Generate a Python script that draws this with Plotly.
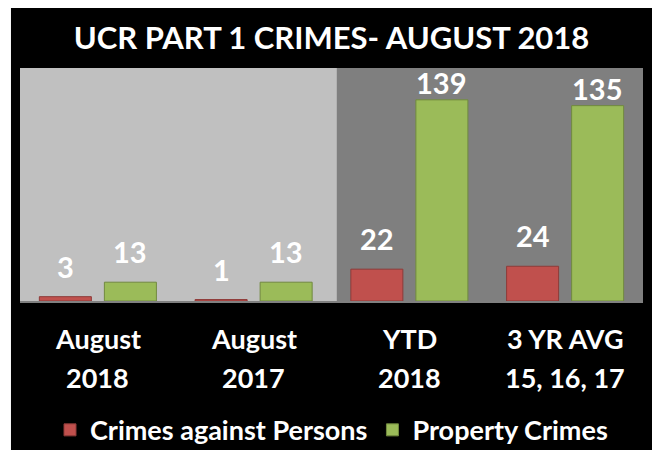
import plotly.graph_objects as go

# chart data
line1 = ["August", "August", "YTD", "3 YR AVG"]
line2 = ["2018", "2017", "2018", "15, 16, 17"]
persons = [3, 1, 22, 24]
property_crimes = [13, 13, 139, 135]

RED = "#C0504D"
GREEN = "#9BBB59"
FONT = "Lato"

cats = list(range(len(line1)))

fig = go.Figure()
fig.add_trace(go.Bar(x=cats, y=persons, name="Crimes against Persons",
    marker=dict(color=RED, line=dict(color="#8E3B39", width=1))))
fig.add_trace(go.Bar(x=cats, y=property_crimes, name="Property Crimes",
    marker=dict(color=GREEN, line=dict(color="#718A3F", width=1))))

# black card with white edges, and the two grey bands behind the bars
shapes = [
    dict(type="rect", xref="paper", yref="paper", x0=-0.0145, x1=1.0193,
         y0=-0.7, y1=1.3, fillcolor="black", line_width=0, layer="below"),
    dict(type="rect", xref="x", yref="paper", x0=-0.5, x1=1.535, y0=0, y1=1,
         fillcolor="#C0C0C0", line_width=0, layer="below"),
    dict(type="rect", xref="x", yref="paper", x0=1.535, x1=3.5, y0=0, y1=1,
         fillcolor="#7F7F7F", line_width=0, layer="below"),
]

annotations = []
# value labels over each bar
for vals, dx in ((persons, -32), (property_crimes, 32)):
    for i, v in enumerate(vals):
        annotations.append(dict(x=i, y=v, text=str(v), showarrow=False,
            xshift=dx, yshift=-2 if v > 100 else 11, yanchor="bottom",
            font=dict(family=FONT, size=29, color="white", weight="bold")))
# two-line category labels
for i in cats:
    for txt, yy in ((line1[i], -0.163), (line2[i], -0.33)):
        annotations.append(dict(x=i, y=yy, xref="x", yref="paper", text=txt,
            showarrow=False, yanchor="middle",
            font=dict(family=FONT, size=27, color="white", weight="bold")))

# page body adds 8px on top/left, so the figure is 8px smaller
fig.update_layout(
    width=652, height=442,
    margin=dict(l=12, r=17, t=60, b=149, autoexpand=False),
    paper_bgcolor="white",
    plot_bgcolor="rgba(0,0,0,0)",
    barmode="group", bargap=0.165, bargroupgap=0.2,
    title=dict(text="UCR PART 1 CRIMES- AUGUST 2018", x=0.5, xanchor="center",
               xref="paper", y=0.932, yanchor="middle",
               font=dict(family=FONT, size=31, color="white", weight="bold")),
    xaxis=dict(range=[-0.5, 3.5], showticklabels=False, showgrid=False,
               zeroline=False, showline=True, linecolor="#808080", linewidth=2),
    yaxis=dict(range=[0, 161], visible=False),
    legend=dict(orientation="h", x=0.5, xanchor="center", y=-0.555,
                yanchor="middle", bgcolor="rgba(0,0,0,0)",
                font=dict(family=FONT, size=27, color="white", weight="bold")),
    shapes=shapes,
    annotations=annotations,
)

fig.write_html("out.html")
